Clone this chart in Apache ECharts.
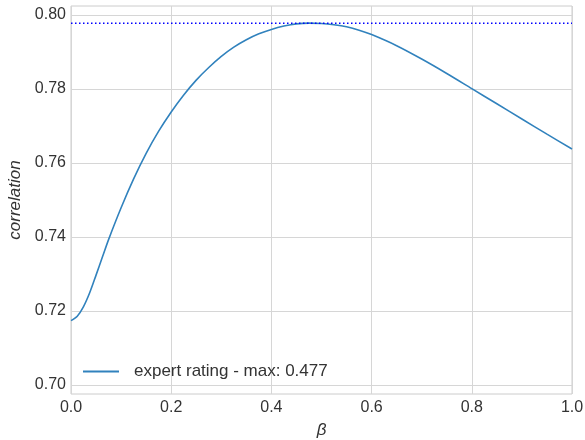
<!DOCTYPE html>
<html>
<head>
<meta charset="utf-8">
<script src="https://cdn.jsdelivr.net/npm/echarts@6/dist/echarts.min.js"></script>
<style>
  html, body { margin: 0; padding: 0; background: #fff; }
  #myChart { width: 585px; height: 440px; }
</style>
</head>
<body>
<div id="myChart"></div>
<script>
// values
const betaValues = [0, 0.0125, 0.025, 0.0375, 0.05, 0.0625, 0.075, 0.1, 0.125, 0.15, 0.175, 0.2, 0.225, 0.25, 0.275, 0.3, 0.325, 0.35, 0.375, 0.4, 0.425, 0.45, 0.475, 0.5, 0.525, 0.55, 0.575, 0.6, 0.65, 0.7, 0.75, 0.8, 0.85, 0.9, 0.95, 1.0]
const corrValues = [0.7174, 0.7186, 0.7212, 0.7250, 0.7297, 0.7345, 0.7393, 0.7479, 0.7557, 0.7626, 0.7686, 0.7738, 0.7784, 0.7824, 0.7858, 0.7888, 0.7913, 0.7933, 0.7949, 0.7961, 0.7970, 0.7976, 0.7978, 0.7977, 0.79735, 0.7968, 0.7959, 0.7947, 0.7917, 0.7881, 0.7842, 0.7801, 0.7760, 0.7719, 0.7678, 0.7638]
const maxCorr = 0.7978
const seriesName = 'expert rating - max: 0.477'
const xTicks = [0, 0.2, 0.4, 0.6, 0.8, 1.0]
const yTicks = [0.70, 0.72, 0.74, 0.76, 0.78, 0.80]

const font = 'Liberation Sans, Arial, sans-serif'
const chart = echarts.init(document.getElementById('myChart'))

chart.setOption({
  animation: false,
  grid: {
    left: 71,
    top: 6,
    width: 501,
    height: 388,
    outerBoundsMode: 'none',
    containLabel: false,
    show: true,
    borderColor: '#cccccc',
    borderWidth: 1,
  },
  legend: {
    left: 78,
    top: 358,
    itemWidth: 36,
    itemHeight: 2,
    icon: 'rect',
    data: [seriesName],
    textStyle: {
      color: '#333',
      fontSize: 17,
      fontFamily: font,
      padding: [0, 0, 0, 10],
    },
  },
  xAxis: {
    type: 'value',
    min: 0,
    max: 1,
    name: 'β',
    nameLocation: 'middle',
    nameGap: 28,
    nameTextStyle: { fontSize: 17, fontStyle: 'italic', color: '#333', fontFamily: font },
    axisLine: { show: false },
    axisTick: { show: false, customValues: xTicks },
    axisLabel: {
      customValues: xTicks,
      margin: 6,
      fontSize: 16,
      color: '#333',
      fontFamily: font,
      formatter: v => v.toFixed(1),
    },
    splitLine: { show: true, lineStyle: { color: '#d6d6d6', width: 1 } },
  },
  yAxis: {
    type: 'value',
    min: 0.69757,
    max: 0.80243,
    name: 'correlation',
    nameLocation: 'middle',
    nameRotate: 90,
    nameGap: 42,
    nameTextStyle: { fontSize: 17, fontStyle: 'italic', color: '#333', fontFamily: font },
    axisLine: { show: false },
    axisTick: { show: false, customValues: yTicks },
    axisLabel: {
      customValues: yTicks,
      margin: 5,
      fontSize: 16,
      color: '#333',
      fontFamily: font,
      formatter: v => v.toFixed(2),
    },
    splitLine: { show: true, lineStyle: { color: '#d6d6d6', width: 1 } },
  },
  series: [{
    name: seriesName,
    type: 'line',
    showSymbol: false,
    smooth: 0.3,
    itemStyle: { color: '#3182bd' },
    lineStyle: { color: '#3182bd', width: 1.6 },
    data: betaValues.map((b, i) => [b, corrValues[i]]),
  },
  {
    name: 'max',
    type: 'line',
    showSymbol: false,
    lineStyle: { color: '#0000ff', width: 1.5, type: [1.5, 2.5] },
    data: [[0, maxCorr], [1, maxCorr]],
  }],
})
</script>
</body>
</html>
